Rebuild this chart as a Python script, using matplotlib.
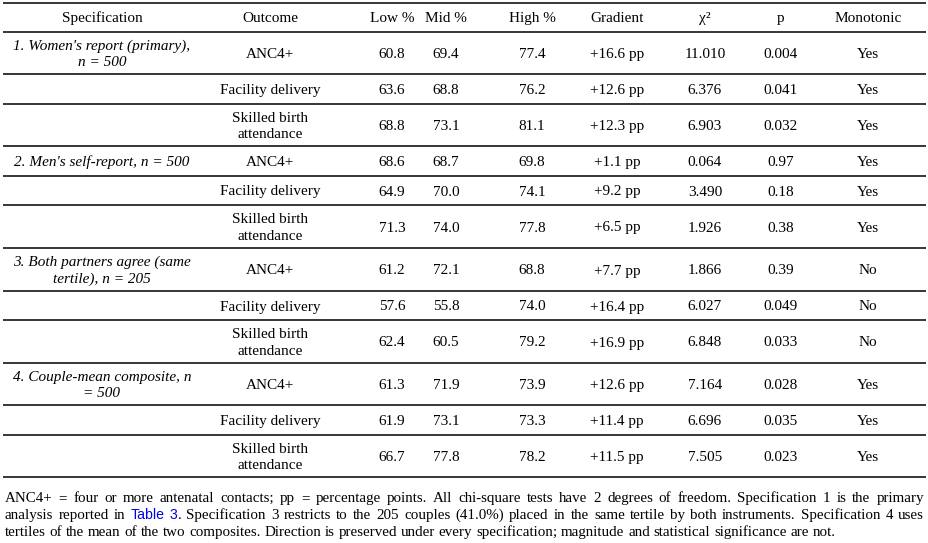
import matplotlib
matplotlib.use("Agg")
import matplotlib.pyplot as plt

# table data
specs = ["1. Women's report (primary),\nn = 500", "2. Men's self-report, n = 500",
         "3. Both partners agree (same\ntertile), n = 205", "4. Couple-mean composite, n\n= 500"]
outcomes = ["ANC4+", "Facility delivery", "Skilled birth\nattendance"]
low = [60.8, 63.6, 68.8, 68.6, 64.9, 71.3, 61.2, 57.6, 62.4, 61.3, 61.9, 66.7]
mid = [69.4, 68.8, 73.1, 68.7, 70.0, 74.0, 72.1, 55.8, 60.5, 71.9, 73.1, 77.8]
high = [77.4, 76.2, 81.1, 69.8, 74.1, 77.8, 68.8, 74.0, 79.2, 73.9, 73.3, 78.2]
gradient = [16.6, 12.6, 12.3, 1.1, 9.2, 6.5, 7.7, 16.4, 16.9, 12.6, 11.4, 11.5]
chi2 = ["11.010", "6.376", "6.903", "0.064", "3.490", "1.926", "1.866", "6.027", "6.848",
        "7.164", "6.696", "7.505"]
pvals = ["0.004", "0.041", "0.032", "0.97", "0.18", "0.38", "0.39", "0.049", "0.033",
         "0.028", "0.035", "0.023"]
monotonic = ["Yes", "Yes", "Yes", "Yes", "Yes", "Yes", "No", "No", "No", "Yes", "Yes", "Yes"]
headers = ["Specification", "Outcome", "Low %", "Mid %", "High %", "Gradient", "χ²", "p", "Monotonic"]

W, H = 929, 543
fig = plt.figure(figsize=(W / 100, H / 100), dpi=100)
ax = fig.add_axes([0, 0, 1, 1])
ax.set_xlim(0, W)
ax.set_ylim(H, 0)
ax.axis("off")

serif = "Liberation Serif"
fs = 11
col_x = [102, 270, 392, 446, 532, 617, 705, 781, 868]
lines_y = [3, 32, 74, 104, 146, 176, 205, 248, 291, 320, 363, 405, 435, 477]
lead = 16.7


def cell(x, yc, text, **kw):
    rows = text.split("\n")
    n = len(rows)
    for k, r in enumerate(rows):
        ax.text(x, yc + 5 + (k - (n - 1) / 2) * lead, r, ha="center", va="baseline",
                fontsize=fs, family=serif, **kw)


for y in lines_y:
    ax.plot([3, 926], [y, y], color="black", lw=1.1, solid_capstyle="butt")

hy = (lines_y[0] + lines_y[1]) / 2
for x, h in zip(col_x, headers):
    cell(x, hy - 0.5, h)

for i in range(12):
    yc = (lines_y[i + 1] + lines_y[i + 2]) / 2
    if i % 3 == 0:
        cell(col_x[0], yc, specs[i // 3], style="italic")
    cell(col_x[1], yc, outcomes[i % 3])
    cell(col_x[2], yc, f"{low[i]:.1f}")
    cell(col_x[3], yc, f"{mid[i]:.1f}")
    cell(col_x[4], yc, f"{high[i]:.1f}")
    cell(col_x[5], yc, f"+{gradient[i]:.1f} pp")
    cell(col_x[6], yc, chi2[i])
    cell(col_x[7], yc, pvals[i])
    cell(col_x[8], yc, monotonic[i])

# footnote, justified
note_fs = 10.8
note_lines = [
    "ANC4+ = four or more antenatal contacts; pp = percentage points. All chi-square tests have 2 degrees of freedom. Specification 1 is the primary",
    "analysis reported in {Table} {3}. Specification 3 restricts to the 205 couples (41.0%) placed in the same tertile by both instruments. Specification 4 uses",
    "tertiles of the mean of the two composites. Direction is preserved under every specification; magnitude and statistical significance are not.",
]
note_base = [502, 519, 536]
x0, x1 = 5, 924
link = "#0000ee"
renderer = fig.canvas.get_renderer()


def pieces(word):
    # split a word into (text, is_link) runs; {..} marks link text
    out = []
    buf = ""
    is_link = False
    for ch in word:
        if ch == "{":
            if buf:
                out.append((buf, is_link))
            buf, is_link = "", True
        elif ch == "}":
            out.append((buf, is_link))
            buf, is_link = "", False
        else:
            buf += ch
    if buf:
        out.append((buf, is_link))
    return out


for li, (line, y) in enumerate(zip(note_lines, note_base)):
    words = line.split(" ")
    arts = []
    widths = []
    for w in words:
        parts = []
        wsum = 0
        for txt, is_link in pieces(w):
            t = ax.text(0, y, txt, ha="left", va="baseline",
                        fontsize=10.2 if is_link else note_fs,
                        family="Liberation Sans" if is_link else serif,
                        color=link if is_link else "black")
            ext = t.get_window_extent(renderer)
            parts.append((t, ext.width))
            wsum += ext.width
        arts.append(parts)
        widths.append(wsum)
    sp = ax.text(0, y, "a a", fontsize=note_fs, family=serif)
    sa = ax.text(0, y, "aa", fontsize=note_fs, family=serif)
    space = sp.get_window_extent(renderer).width - sa.get_window_extent(renderer).width
    sp.remove()
    sa.remove()
    if li < len(note_lines) - 1:
        gap = (x1 - x0 - sum(widths)) / (len(words) - 1)
    else:
        gap = space
    x = x0
    for parts, wd in zip(arts, widths):
        px = x
        for t, tw in parts:
            t.set_x(px)
            px += tw
        x += wd + gap

fig.savefig("out.png", dpi=100)
